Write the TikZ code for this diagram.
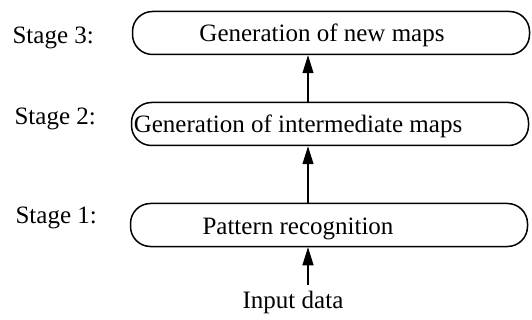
\documentclass[tikz,border=0pt]{standalone}
\usepackage{fontspec}
\setmainfont{Liberation Serif}
\usetikzlibrary{arrows.meta}
\begin{document}
\begin{tikzpicture}[x=1pt,y=-1pt,
  stagebox/.style={draw, line width=1.5pt, rounded corners=20pt,
    minimum width=397pt, minimum height=43pt, inner sep=0pt},
  boxtext/.style={font=\fontsize{25}{29}\selectfont, inner sep=0pt, anchor=base},
  stagelabel/.style={font=\fontsize{25}{29}\selectfont, inner sep=0pt, anchor=base east},
  flow/.style={line width=1.2pt, -{Triangle[length=18pt,width=11pt]}}]
\useasboundingbox (0,0) rectangle (532,320);

% the three processing stages
\node[stagebox] (b3) at (331,33) {};
\node[stagebox] (b2) at (330,124) {};
\node[stagebox] (b1) at (329,225) {};

\node[boxtext] (t3) at (322,42) {Generation of new maps};
\node[boxtext] (t2) at (298,133) {Generation of intermediate maps};
\node[boxtext] (t1) at (298,234) {Pattern recognition};

% stage labels on the left
\node[stagelabel] (s3) at (94,44) {Stage 3:};
\node[stagelabel] (s2) at (96,125) {Stage 2:};
\node[stagelabel] (s1) at (97,223) {Stage 1:};

% input
\node[boxtext] (in) at (293,308) {Input data};
\coordinate (inarrow) at (308,285);

% connectors
\draw[flow] (inarrow) -- (inarrow |- b1.south);
\draw[flow] (b1.north -| inarrow) -- (inarrow |- b2.south);
\draw[flow] (b2.north -| inarrow) -- (inarrow |- b3.south);
\end{tikzpicture}
\end{document}
